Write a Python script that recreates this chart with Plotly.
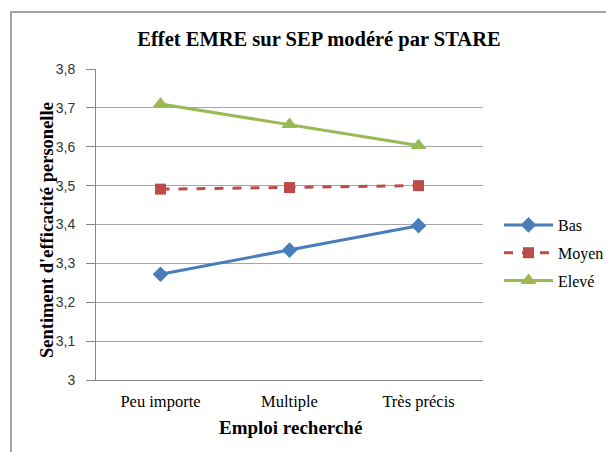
import plotly.graph_objects as go

categories = ["Peu importe", "Multiple", "Très précis"]
bas = [3.272, 3.334, 3.397]
moyen = [3.491, 3.495, 3.500]
eleve = [3.710, 3.657, 3.603]
ytick_vals = [3.0, 3.1, 3.2, 3.3, 3.4, 3.5, 3.6, 3.7, 3.8]
ytick_text = ["3", "3,1", "3,2", "3,3", "3,4", "3,5", "3,6", "3,7", "3,8"]

serif = "Liberation Serif, Times New Roman, serif"

fig = go.Figure()
fig.add_trace(go.Scatter(x=categories, y=bas, name="Bas", mode="lines+markers",
                         legendgroup="a",
                         line=dict(color="#4a7ebb", width=3),
                         marker=dict(symbol="diamond", size=12, color="#4a7ebb")))
fig.add_trace(go.Scatter(x=categories, y=moyen, name="Moyen", mode="lines+markers",
                         legendgroup="b",
                         line=dict(color="#be4b48", width=3, dash="dash"),
                         marker=dict(symbol="square", size=11, color="#be4b48")))
fig.add_trace(go.Scatter(x=categories, y=eleve, name="Elevé", mode="lines+markers",
                         legendgroup="c",
                         line=dict(color="#98b954", width=3),
                         marker=dict(symbol="triangle-up", size=14, color="#98b954")))

fig.update_layout(
    width=606, height=452,
    margin=dict(l=96, r=123, t=69, b=72, autoexpand=False),
    paper_bgcolor="white", plot_bgcolor="white",
    title=dict(text="<b>Effet EMRE sur SEP modéré par STARE</b>",
               x=319/606, xanchor="center", y=1-39/452, yanchor="middle",
               font=dict(family=serif, size=20.5, color="black")),
    xaxis=dict(type="category", range=[-0.5, 2.5], showgrid=False,
               showline=True, linecolor="#868686", linewidth=1,
               ticks="", tickfont=dict(family=serif, size=16.5, color="black"),
               ticklabelstandoff=6),
    yaxis=dict(range=[3.0, 3.8], tickvals=ytick_vals, ticktext=ytick_text,
               showgrid=True, gridcolor="#a6a6a6", gridwidth=1,
               showline=True, linecolor="#868686", linewidth=1,
               ticks="outside", ticklen=9, tickcolor="#868686",
               ticklabelstandoff=8,
               tickfont=dict(family="Liberation Sans, Arial, sans-serif", size=14, color="#333333"),
               zeroline=False),
    legend=dict(xref="container", x=499/606, yref="container", y=1-253/452,
                xanchor="left", yanchor="middle",
                font=dict(family=serif, size=16, color="black"),
                itemwidth=49,
                bgcolor="rgba(0,0,0,0)", traceorder="grouped", tracegroupgap=4),
    showlegend=True,
    annotations=[
        dict(text="<b>Emploi recherché</b>", xref="paper", yref="paper",
             x=(290-96)/387, y=(380-427)/311, xanchor="center", yanchor="middle",
             showarrow=False, font=dict(family=serif, size=19, color="black")),
        dict(text="<b>Sentiment d'efficacité personelle</b>", xref="paper", yref="paper",
             x=(47-96)/387, y=(380-230)/311, xanchor="center", yanchor="middle",
             textangle=-90, showarrow=False,
             font=dict(family=serif, size=18.5, color="black")),
    ],
    shapes=[dict(type="rect", xref="paper", yref="paper",
                 x0=(11-96)/387, x1=(640-96)/387, y0=(380-480)/311, y1=(380-12)/311,
                 line=dict(color="#868686", width=1.5), fillcolor="rgba(0,0,0,0)",
                 layer="above")],
)

fig.write_html("out.html", config={"displayModeBar": False},
               post_script="document.body.style.margin='0';")
